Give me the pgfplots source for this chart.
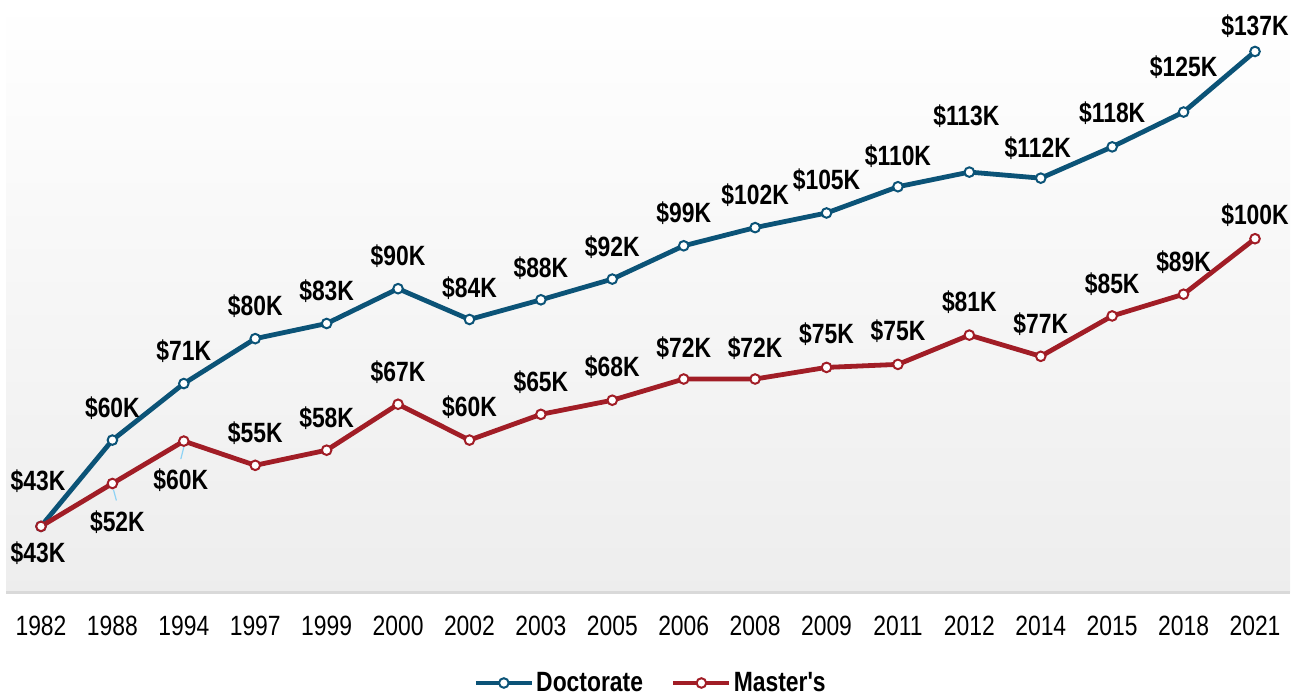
\documentclass[border=0pt]{standalone}
\usepackage{pgfplots}
\pgfplotsset{compat=1.18}
\usepackage{pgfplotstable}
\usepackage{fontspec}
\setmainfont[FakeStretch=0.82,Ligatures=TeXOff]{Liberation Sans}
\definecolor{doc}{HTML}{0B5377}
\definecolor{mas}{HTML}{A11D26}
\definecolor{lead}{HTML}{8FD3F5}

\pgfplotstableread{
x y dx dy label
0 43.0 -3 45 \$43K
1 60.1 0 32 \$60K
2 71.3 0 32 \$71K
3 80.2 0 32 \$80K
4 83.2 0 32 \$83K
5 90.1 0 32 \$90K
6 84.0 0 31 \$84K
7 87.9 0 32 \$88K
8 92.0 0 32 \$92K
9 98.6 0 33 \$99K
10 102.2 0 32 \$102K
11 105.1 0 33 \$105K
12 110.3 0 31 \$110K
13 113.2 -3 56 \$113K
14 112.0 -3 30 \$112K
15 118.2 0 34 \$118K
16 125.1 0 45 \$125K
17 137.1 0 25 \$137K
}\doctab

\pgfplotstableread{
x y dx dy label
0 43.0 -3 -27 \$43K
1 51.5 5 -39 \$52K
2 59.9 -3 -39 \$60K
3 55.1 0 32 \$55K
4 58.1 0 32 \$58K
5 67.2 0 32 \$67K
6 60.1 0 33 \$60K
7 65.2 0 32 \$65K
8 68.0 0 33 \$68K
9 72.2 0 31 \$72K
10 72.2 0 31 \$72K
11 74.5 0 33 \$75K
12 75.1 0 33 \$75K
13 80.9 0 33 \$81K
14 76.7 0 32 \$77K
15 84.7 0 32 \$85K
16 89.0 0 32 \$89K
17 100.0 0 24 \$100K
}\mastab

\begin{document}
\begin{tikzpicture}
\begin{axis}[
  at={(0,0)}, anchor=south west,
  scale only axis,
  width=1284bp, height=592bp,
  xmin=-0.49, xmax=17.49,
  ymin=30, ymax=147.3,
  clip=false,
  axis x line*=bottom,
  axis y line=none,
  x axis line style={draw=black!15, line width=3bp},
  axis background/.style={top color=white, bottom color=black!7},
  xtick={0,...,17},
  xticklabels={1982,1988,1994,1997,1999,2000,2002,2003,2005,2006,2008,2009,2011,2012,2014,2015,2018,2021},
  major tick length=0pt,
  xticklabel style={font=\fontsize{28}{32}\selectfont, yshift=-20bp},
  ytick=\empty,
  legend columns=2,
  legend style={at={(0.502,-0.1537)}, anchor=center, draw=none, fill=none,
    font=\fontsize{28}{32}\selectfont\bfseries,
    /tikz/every even column/.append style={column sep=26bp}},
  legend image code/.code={
    \draw[mark repeat=2, mark phase=2] plot coordinates {(0bp,0bp) (28bp,0bp) (56bp,0bp)};
  },
  lbl/.style={
    point meta=explicit symbolic,
    nodes near coords,
    visualization depends on={\thisrow{dx} \as \dx},
    visualization depends on={\thisrow{dy} \as \dy},
    nodes near coords style={font=\fontsize{28}{32}\selectfont\bfseries, anchor=center, inner sep=0pt, xshift=\dx*1bp, yshift=\dy*1bp, text=black},
  },
]
\addplot[doc, line width=4.8bp, mark=*, mark size=4.8bp,
  mark options={fill=white, draw=doc, line width=2bp}, lbl]
  table[x=x, y=y, meta=label] {\doctab};
\addlegendentry{Doctorate}
\addplot[mas, line width=4.8bp, mark=*, mark size=4.8bp,
  mark options={fill=white, draw=mas, line width=2bp}, lbl]
  table[x=x, y=y, meta=label] {\mastab};
\addlegendentry{Master's}
\draw[lead, line width=1.2bp] (axis cs:1,51.5) ++(1bp,-6bp) -- ++(3bp,-11bp);
\draw[lead, line width=1.2bp] (axis cs:2,59.9) ++(0bp,-6bp) -- ++(-3bp,-12bp);
\end{axis}
\pgfresetboundingbox
\path (-6bp,-106bp) rectangle (1294bp,592bp);
\end{tikzpicture}
\end{document}
